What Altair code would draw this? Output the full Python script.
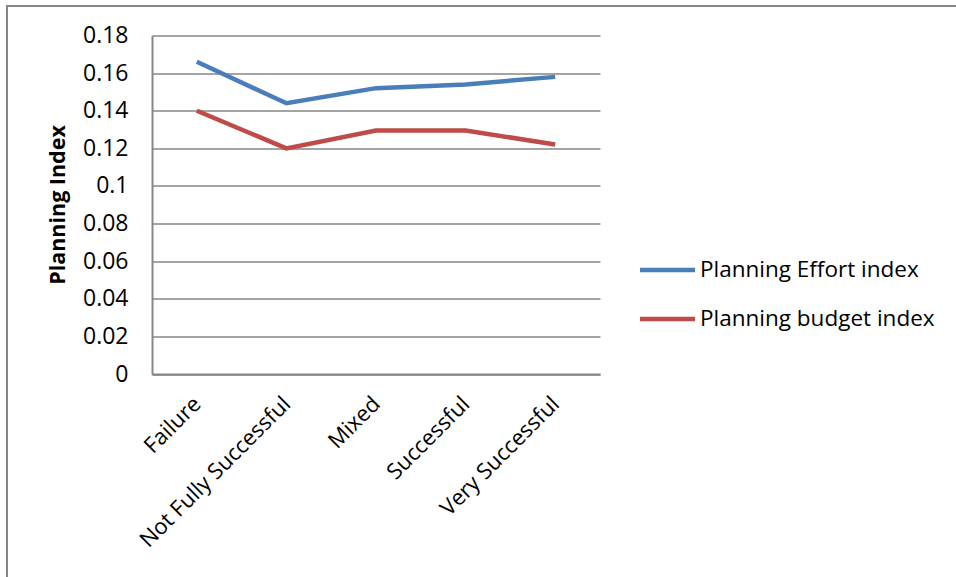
import altair as alt
import pandas as pd

categories = ["Failure", "Not Fully Successful", "Mixed", "Successful", "Very Successful"]
series_names = ["Planning Effort index", "Planning budget index"]
effort_values = [0.166, 0.144, 0.152, 0.154, 0.158]
budget_values = [0.140, 0.120, 0.1295, 0.1295, 0.122]
y_ticks = [0, 0.02, 0.04, 0.06, 0.08, 0.1, 0.12, 0.14, 0.16, 0.18]
colors = ["#4A7EBB", "#BE4B48"]

rows = []
for name, vals in zip(series_names, [effort_values, budget_values]):
    for c, v in zip(categories, vals):
        rows.append({"category": c, "series": name, "value": v})
df = pd.DataFrame(rows)
legend_df = pd.DataFrame({"series": series_names})

FONT = "Open Sans"
GREY = "#868686"
color_scale = alt.Scale(domain=series_names, range=colors)

lines = alt.Chart(df).mark_line(strokeWidth=4.5).encode(
    x=alt.X("category:N", sort=categories,
            scale=alt.Scale(paddingInner=0, paddingOuter=0.5),
            axis=alt.Axis(title=None, labelAngle=-45, labelAlign="right",
                          labelBaseline="middle", labelPadding=26, ticks=False,
                          labelFontSize=22, labelFont=FONT, labelColor="#000",
                          domainColor=GREY, domainWidth=2, grid=False, labelLimit=400)),
    y=alt.Y("value:Q", scale=alt.Scale(domain=[0, 0.18], nice=False),
            axis=alt.Axis(title="Planning Index", values=y_ticks, format="~g",
                          ticks=False, labelPadding=24, labelFontSize=23,
                          labelFont=FONT, labelColor="#000",
                          titleFont=FONT, titleFontSize=21.5, titleFontWeight="bold",
                          titleColor="#000", titleAngle=-90, titleX=-94, titleY=169,
                          titleAlign="center", titleBaseline="middle",
                          domainColor=GREY, domainWidth=2,
                          gridColor=GREY, gridWidth=1.5)),
    color=alt.Color("series:N", sort=series_names, scale=color_scale, legend=None),
)

legend_y = alt.Y("series:N", sort=series_names,
                 scale=alt.Scale(type="point", domain=series_names, range=[234.5, 283.5], padding=0),
                 axis=None)
legend_lines = alt.Chart(legend_df).mark_rule(strokeWidth=4.5).encode(
    x=alt.value(488), x2=alt.value(543), y=legend_y,
    color=alt.Color("series:N", scale=color_scale, legend=None))
legend_text = alt.Chart(legend_df).mark_text(
    align="left", baseline="middle", font=FONT, fontSize=22.5, color="#000"
).encode(x=alt.value(548), y=legend_y, text="series:N")

frame_top = alt.Chart(df).mark_rule(color=GREY, strokeWidth=2).encode(
    x=alt.value(-146), x2=alt.value(900), y=alt.value(-29.5))
frame_left = alt.Chart(df).mark_rule(color=GREY, strokeWidth=2).encode(
    x=alt.value(-145), y=alt.value(-30.5), y2=alt.value(600))

legend_layer = alt.layer(legend_lines, legend_text)

chart = alt.layer(frame_top, frame_left, lines, legend_layer).resolve_scale(
    y="independent"
).properties(
    width=448, height=338.5,
    autosize=alt.AutoSizeParams(type="none"),
    padding={"left": 152, "top": 35.5, "right": 356, "bottom": 203},
    background="white",
).configure_view(stroke=None)

chart.save("out.html", embed_options={"renderer": "svg", "actions": False})
